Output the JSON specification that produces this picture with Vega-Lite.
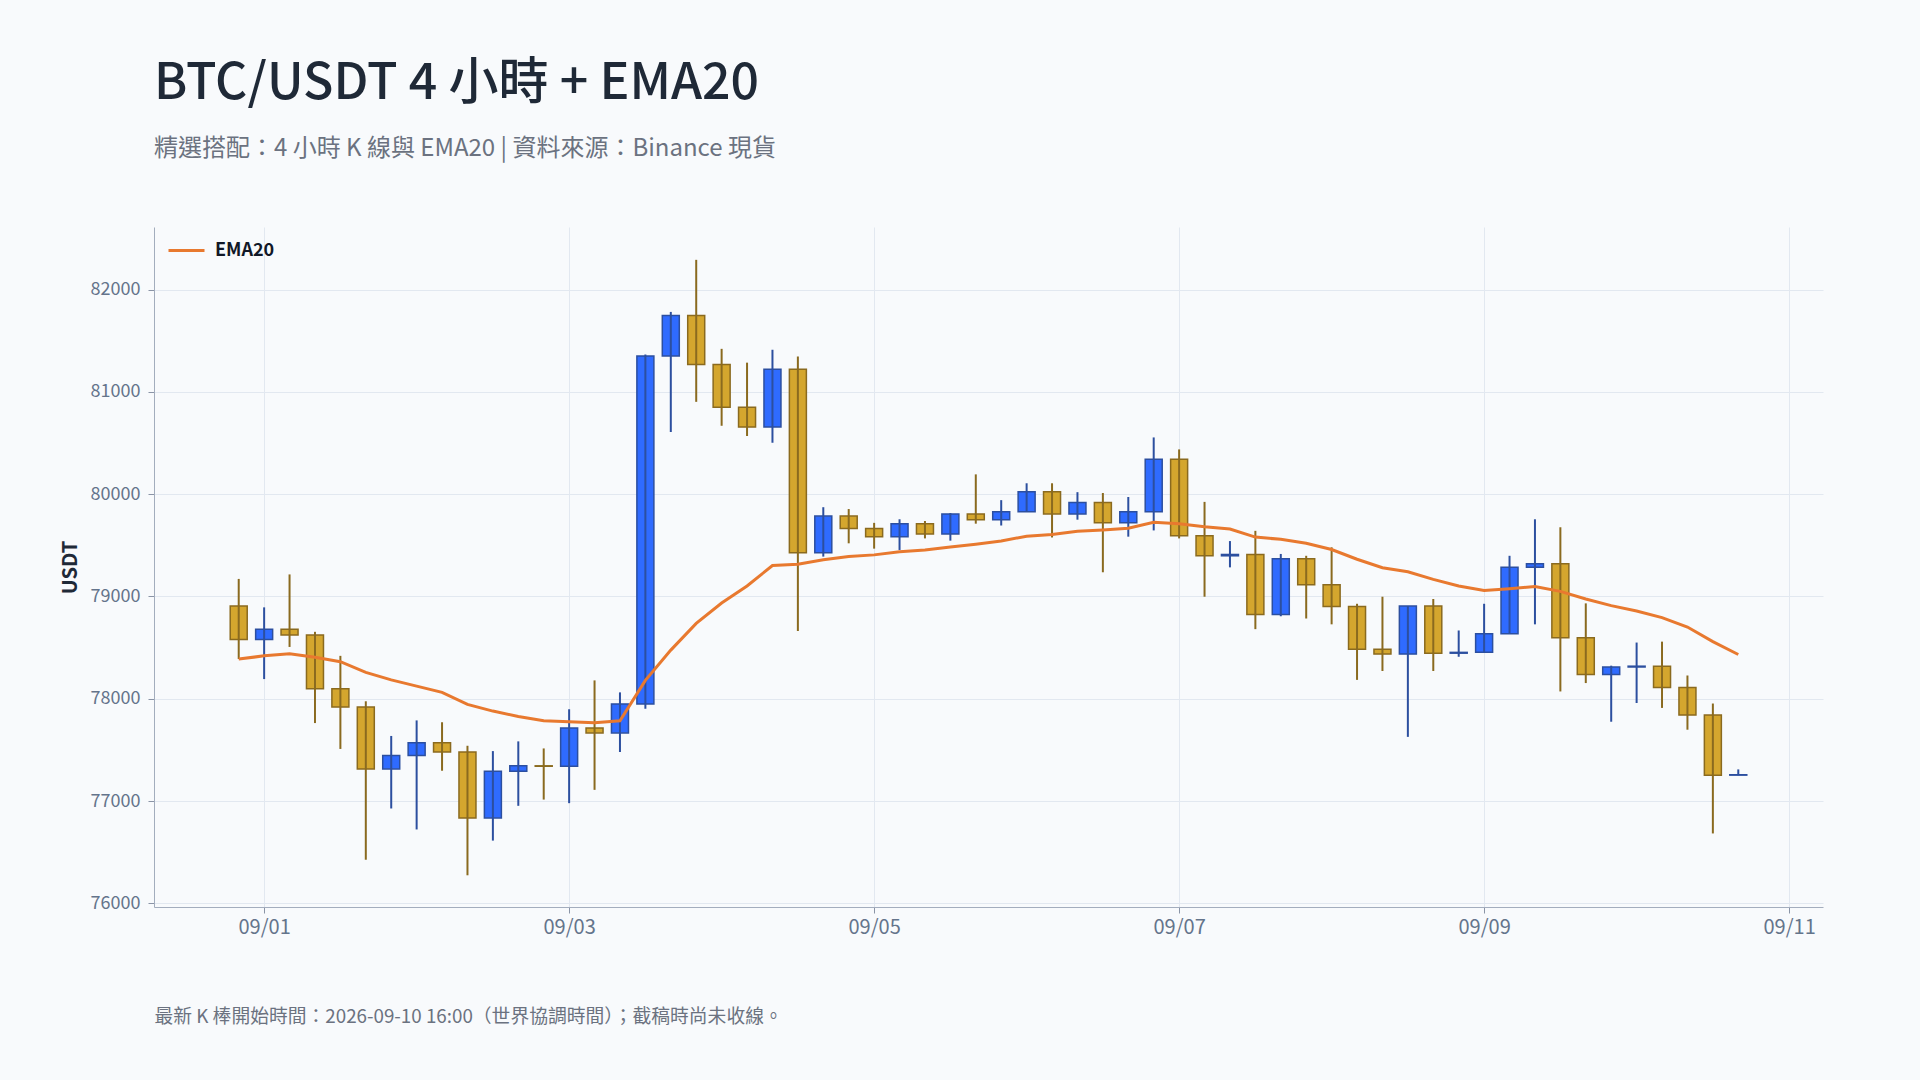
{
  "$schema": "https://vega.github.io/schema/vega-lite/v6.json",
  "width": 1669,
  "height": 680,
  "autosize": {"type": "none"},
  "padding": {"left": 154, "top": 227, "right": 97, "bottom": 173},
  "background": "#f8fafc",
  "config": {
    "font": "Noto Sans CJK TC",
    "view": {"stroke": null},
    "axis": {"gridColor": "#e2e8f0", "gridWidth": 1, "domainColor": "#a3adbd", "tickColor": "#8a94a6", "labelColor": "#64748b", "labelFont": "Noto Sans CJK TC"}
  },
  "title": {
    "text": "BTC/USDT 4 小時 + EMA20",
    "subtitle": "精選搭配：4 小時 K 線與 EMA20 | 資料來源：Binance 現貨",
    "anchor": "start",
    "frame": "group",
    "fontSize": 50,
    "fontWeight": 500,
    "color": "#1f2937",
    "subtitleFontSize": 24,
    "subtitleColor": "#6b7280",
    "subtitlePadding": 28,
    "offset": 66
  },
  "data": {
    "values": [
      {"t": "2026-08-31T20:00:00Z", "open": 78906, "high": 79171, "low": 78388, "close": 78580, "ema": 78388},
      {"t": "2026-09-01T00:00:00Z", "open": 78580, "high": 78893, "low": 78192, "close": 78680, "ema": 78419},
      {"t": "2026-09-01T04:00:00Z", "open": 78680, "high": 79215, "low": 78506, "close": 78623, "ema": 78440},
      {"t": "2026-09-01T08:00:00Z", "open": 78623, "high": 78654, "low": 77762, "close": 78097, "ema": 78406},
      {"t": "2026-09-01T12:00:00Z", "open": 78097, "high": 78419, "low": 77509, "close": 77918, "ema": 78362},
      {"t": "2026-09-01T16:00:00Z", "open": 77918, "high": 77975, "low": 76426, "close": 77314, "ema": 78258},
      {"t": "2026-09-01T20:00:00Z", "open": 77314, "high": 77636, "low": 76927, "close": 77444, "ema": 78184},
      {"t": "2026-09-02T00:00:00Z", "open": 77444, "high": 77788, "low": 76722, "close": 77570, "ema": 78123},
      {"t": "2026-09-02T04:00:00Z", "open": 77570, "high": 77770, "low": 77296, "close": 77479, "ema": 78062},
      {"t": "2026-09-02T08:00:00Z", "open": 77479, "high": 77540, "low": 76274, "close": 76835, "ema": 77944},
      {"t": "2026-09-02T12:00:00Z", "open": 76835, "high": 77488, "low": 76613, "close": 77292, "ema": 77879},
      {"t": "2026-09-02T16:00:00Z", "open": 77292, "high": 77583, "low": 76953, "close": 77344, "ema": 77827},
      {"t": "2026-09-02T20:00:00Z", "open": 77344, "high": 77514, "low": 77014, "close": 77340, "ema": 77784},
      {"t": "2026-09-03T00:00:00Z", "open": 77340, "high": 77897, "low": 76979, "close": 77714, "ema": 77775},
      {"t": "2026-09-03T04:00:00Z", "open": 77714, "high": 78179, "low": 77109, "close": 77666, "ema": 77766},
      {"t": "2026-09-03T08:00:00Z", "open": 77666, "high": 78062, "low": 77479, "close": 77949, "ema": 77784},
      {"t": "2026-09-03T12:00:00Z", "open": 77949, "high": 81364, "low": 77901, "close": 81351, "ema": 78179},
      {"t": "2026-09-03T16:00:00Z", "open": 81351, "high": 81781, "low": 80607, "close": 81746, "ema": 78475},
      {"t": "2026-09-03T20:00:00Z", "open": 81746, "high": 82290, "low": 80902, "close": 81268, "ema": 78736},
      {"t": "2026-09-04T00:00:00Z", "open": 81268, "high": 81420, "low": 80668, "close": 80850, "ema": 78936},
      {"t": "2026-09-04T04:00:00Z", "open": 80850, "high": 81285, "low": 80568, "close": 80655, "ema": 79102},
      {"t": "2026-09-04T08:00:00Z", "open": 80655, "high": 81411, "low": 80502, "close": 81220, "ema": 79302},
      {"t": "2026-09-04T12:00:00Z", "open": 81220, "high": 81346, "low": 78662, "close": 79428, "ema": 79315},
      {"t": "2026-09-04T16:00:00Z", "open": 79428, "high": 79872, "low": 79389, "close": 79785, "ema": 79358},
      {"t": "2026-09-04T20:00:00Z", "open": 79785, "high": 79854, "low": 79519, "close": 79663, "ema": 79389},
      {"t": "2026-09-05T00:00:00Z", "open": 79663, "high": 79719, "low": 79467, "close": 79584, "ema": 79406},
      {"t": "2026-09-05T04:00:00Z", "open": 79584, "high": 79754, "low": 79454, "close": 79711, "ema": 79437},
      {"t": "2026-09-05T08:00:00Z", "open": 79711, "high": 79737, "low": 79567, "close": 79610, "ema": 79454},
      {"t": "2026-09-05T12:00:00Z", "open": 79610, "high": 79815, "low": 79545, "close": 79806, "ema": 79484},
      {"t": "2026-09-05T16:00:00Z", "open": 79806, "high": 80193, "low": 79711, "close": 79750, "ema": 79510},
      {"t": "2026-09-05T20:00:00Z", "open": 79750, "high": 79941, "low": 79693, "close": 79828, "ema": 79541},
      {"t": "2026-09-06T00:00:00Z", "open": 79828, "high": 80106, "low": 79828, "close": 80024, "ema": 79589},
      {"t": "2026-09-06T04:00:00Z", "open": 80024, "high": 80106, "low": 79576, "close": 79806, "ema": 79606},
      {"t": "2026-09-06T08:00:00Z", "open": 79806, "high": 80019, "low": 79750, "close": 79919, "ema": 79637},
      {"t": "2026-09-06T12:00:00Z", "open": 79919, "high": 80011, "low": 79236, "close": 79719, "ema": 79650},
      {"t": "2026-09-06T16:00:00Z", "open": 79719, "high": 79972, "low": 79584, "close": 79828, "ema": 79667},
      {"t": "2026-09-06T20:00:00Z", "open": 79828, "high": 80554, "low": 79645, "close": 80341, "ema": 79724},
      {"t": "2026-09-07T00:00:00Z", "open": 80341, "high": 80437, "low": 79567, "close": 79593, "ema": 79711},
      {"t": "2026-09-07T04:00:00Z", "open": 79593, "high": 79924, "low": 78997, "close": 79397, "ema": 79680},
      {"t": "2026-09-07T08:00:00Z", "open": 79397, "high": 79541, "low": 79284, "close": 79410, "ema": 79658},
      {"t": "2026-09-07T12:00:00Z", "open": 79410, "high": 79641, "low": 78680, "close": 78823, "ema": 79580},
      {"t": "2026-09-07T16:00:00Z", "open": 78823, "high": 79415, "low": 78806, "close": 79367, "ema": 79558},
      {"t": "2026-09-07T20:00:00Z", "open": 79367, "high": 79397, "low": 78784, "close": 79115, "ema": 79519},
      {"t": "2026-09-08T00:00:00Z", "open": 79115, "high": 79480, "low": 78727, "close": 78901, "ema": 79458},
      {"t": "2026-09-08T04:00:00Z", "open": 78901, "high": 78928, "low": 78184, "close": 78484, "ema": 79363},
      {"t": "2026-09-08T08:00:00Z", "open": 78484, "high": 78997, "low": 78271, "close": 78436, "ema": 79280},
      {"t": "2026-09-08T12:00:00Z", "open": 78436, "high": 78906, "low": 77627, "close": 78906, "ema": 79241},
      {"t": "2026-09-08T16:00:00Z", "open": 78906, "high": 78975, "low": 78271, "close": 78445, "ema": 79167},
      {"t": "2026-09-08T20:00:00Z", "open": 78445, "high": 78667, "low": 78410, "close": 78453, "ema": 79102},
      {"t": "2026-09-09T00:00:00Z", "open": 78453, "high": 78928, "low": 78453, "close": 78636, "ema": 79058},
      {"t": "2026-09-09T04:00:00Z", "open": 78636, "high": 79397, "low": 78636, "close": 79284, "ema": 79075},
      {"t": "2026-09-09T08:00:00Z", "open": 79284, "high": 79754, "low": 78727, "close": 79319, "ema": 79097},
      {"t": "2026-09-09T12:00:00Z", "open": 79319, "high": 79676, "low": 78071, "close": 78597, "ema": 79049},
      {"t": "2026-09-09T16:00:00Z", "open": 78597, "high": 78932, "low": 78153, "close": 78236, "ema": 78975},
      {"t": "2026-09-09T20:00:00Z", "open": 78236, "high": 78323, "low": 77775, "close": 78310, "ema": 78910},
      {"t": "2026-09-10T00:00:00Z", "open": 78310, "high": 78549, "low": 77958, "close": 78318, "ema": 78858},
      {"t": "2026-09-10T04:00:00Z", "open": 78318, "high": 78558, "low": 77910, "close": 78110, "ema": 78793},
      {"t": "2026-09-10T08:00:00Z", "open": 78110, "high": 78227, "low": 77697, "close": 77840, "ema": 78701},
      {"t": "2026-09-10T12:00:00Z", "open": 77840, "high": 77953, "low": 76683, "close": 77253, "ema": 78558},
      {"t": "2026-09-10T16:00:00Z", "open": 77253, "high": 77309, "low": 77253, "close": 77257, "ema": 78432}
    ]
  },
  "encoding": {
    "x": {
      "field": "t",
      "type": "temporal",
      "scale": {
        "type": "utc",
        "padding": 0,
        "domain": [
          {"year": 2026, "month": 8, "date": 31, "hours": 6, "minutes": 40, "utc": true},
          {"year": 2026, "month": 9, "date": 11, "hours": 5, "minutes": 20, "utc": true}
        ]
      },
      "axis": {
        "title": "最新 K 棒開始時間：2026-09-10 16:00（世界協調時間）；截稿時尚未收線。",
        "titleAnchor": "start",
        "titleAlign": "left",
        "titleFontSize": 18.8,
        "titleFontWeight": "normal",
        "titleColor": "#6b7280",
        "titlePadding": 70,
        "labelExpr": "utcFormat(datum.value, '%m/%d')",
        "values": [
          {"year": 2026, "month": 9, "date": 1, "utc": true},
          {"year": 2026, "month": 9, "date": 3, "utc": true},
          {"year": 2026, "month": 9, "date": 5, "utc": true},
          {"year": 2026, "month": 9, "date": 7, "utc": true},
          {"year": 2026, "month": 9, "date": 9, "utc": true},
          {"year": 2026, "month": 9, "date": 11, "utc": true}
        ],
        "labelFontSize": 20,
        "labelPadding": 4,
        "tickSize": 6,
        "grid": true
      }
    }
  },
  "layer": [
    {
      "mark": {"type": "bar", "width": 17, "strokeWidth": 1.5},
      "encoding": {
        "y": {
          "field": "open",
          "type": "quantitative",
          "scale": {"domain": [75964, 82611], "nice": false, "zero": false},
          "axis": {
            "title": "USDT",
            "titleFontSize": 20,
            "titleFontWeight": "bold",
            "titleColor": "#1f2937",
            "titlePadding": 10,
            "values": [76000, 77000, 78000, 79000, 80000, 81000, 82000],
            "format": "d",
            "labelFontSize": 18,
            "labelPadding": 8,
            "tickSize": 6,
            "grid": true
          }
        },
        "y2": {"field": "close"},
        "fill": {"condition": {"test": "datum.close > datum.open", "value": "#2f6bff"}, "value": "#d4a62e"},
        "stroke": {"condition": {"test": "datum.close > datum.open", "value": "#2c4f9f"}, "value": "#8a6a1f"}
      }
    },
    {
      "mark": {"type": "rule", "strokeWidth": 2},
      "encoding": {
        "y": {"field": "low", "type": "quantitative"},
        "y2": {"field": "high"},
        "color": {"condition": {"test": "datum.close > datum.open", "value": "#2c4f9f"}, "value": "#8a6a1f"}
      }
    },
    {
      "mark": {"type": "line", "strokeWidth": 3},
      "encoding": {
        "y": {"field": "ema", "type": "quantitative"},
        "color": {
          "datum": "EMA20",
          "scale": {"domain": ["EMA20"], "range": ["#e8792f"]},
          "legend": {
            "title": null,
            "orient": "none",
            "legendX": 13,
            "legendY": 4,
            "padding": 0,
            "symbolType": "stroke",
            "symbolSize": 1296,
            "symbolStrokeWidth": 3,
            "labelFontSize": 18,
            "labelFontWeight": "bold",
            "labelColor": "#111827",
            "labelOffset": 9
          }
        }
      }
    }
  ]
}
